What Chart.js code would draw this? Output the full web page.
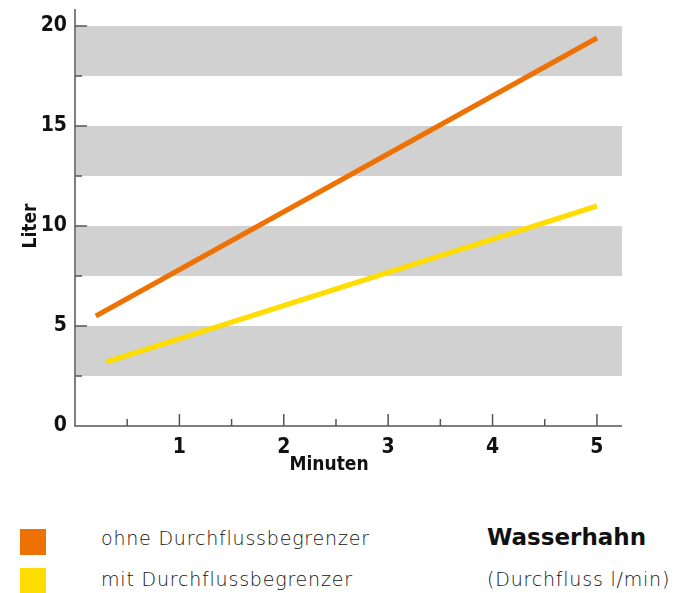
<!DOCTYPE html>
<html>
<head>
<meta charset="utf-8">
<script src="https://cdn.jsdelivr.net/npm/chart.js@4"></script>
<style>
  body { margin: 0; background: #fff; width: 674px; height: 593px; position: relative; overflow: hidden; }
  #wrap { position: absolute; left: 0; top: 0; width: 674px; height: 490px; }
  .sw { position: absolute; left: 20px; width: 26px; height: 26px; }
  .lbl { position: absolute; font-family: "DejaVu Sans", sans-serif; font-weight: 200; font-size: 19px; line-height: 19px; letter-spacing: 0.8px; color: #111; white-space: nowrap; }
  .ttl { position: absolute; font-family: "DejaVu Sans", sans-serif; font-weight: 700; font-size: 23px; line-height: 23px; color: #111; white-space: nowrap; }
</style>
</head>
<body>
<div id="wrap"><canvas id="chart"></canvas></div>

<div class="sw" style="top:529px; background:#EE7203"></div>
<div class="lbl" style="left:101px; top:529px">ohne Durchflussbegrenzer</div>
<div class="sw" style="top:568px; background:#FFDD00"></div>
<div class="lbl" style="left:101px; top:570px">mit Durchflussbegrenzer</div>
<div class="ttl" style="left:487px; top:526px">Wasserhahn</div>
<div class="lbl" style="left:487px; top:570px">(Durchfluss l/min)</div>

<script>
// Data (Minuten -> Liter)
const seriesNames = ['ohne Durchflussbegrenzer', 'mit Durchflussbegrenzer'];
const ohneX = [0.2, 5];
const ohneY = [5.5, 19.4];
const mitX = [0.3, 5];
const mitY = [3.2, 11.0];
const bandFrom = [2.5, 7.5, 12.5, 17.5];
const bandTo = [5, 10, 15, 20];
const xTitle = 'Minuten';
const yTitle = 'Liter';

const orange = '#EE7203';
const yellow = '#FFDD00';
const axisColor = '#555';
const tickFont = { family: '"DejaVu Sans Condensed", "DejaVu Sans", sans-serif', weight: 'bold', size: 21 };

function pts(xs, ys) {
    return xs.map((x, i) => ({ x: x, y: ys[i] }));
}

// Grey horizontal bands behind the lines
const bandsPlugin = {
    id: 'bands',
    beforeDatasetsDraw(chart) {
        const { ctx, chartArea, scales } = chart;
        ctx.save();
        ctx.fillStyle = '#D1D1D1';
        for (let i = 0; i < bandFrom.length; i++) {
            const y1 = scales.y.getPixelForValue(bandTo[i]);
            const y2 = scales.y.getPixelForValue(bandFrom[i]);
            ctx.fillRect(chartArea.left + 1, y1, chartArea.right - chartArea.left - 1, y2 - y1);
        }
        ctx.restore();
    }
};

// Axis lines with inward tick marks, plus axis titles
const axesPlugin = {
    id: 'axesDraw',
    afterDraw(chart) {
        const { ctx, chartArea, scales } = chart;
        const x0 = chartArea.left, y0 = chartArea.bottom;
        ctx.save();
        ctx.strokeStyle = axisColor;
        ctx.lineWidth = 1.5;
        ctx.beginPath();
        ctx.moveTo(x0, chartArea.top);
        ctx.lineTo(x0, y0);
        ctx.lineTo(chartArea.right, y0);
        ctx.stroke();

        scales.y.ticks.forEach(t => {
            if (t.value === 0) return;
            const py = scales.y.getPixelForValue(t.value);
            const len = t.value % 5 === 0 ? 12 : 7;
            ctx.beginPath();
            ctx.moveTo(x0, py);
            ctx.lineTo(x0 + len, py);
            ctx.stroke();
        });
        scales.x.ticks.forEach(t => {
            if (t.value === 0) return;
            const px = scales.x.getPixelForValue(t.value);
            const len = Number.isInteger(t.value) ? 12 : 7;
            ctx.beginPath();
            ctx.moveTo(px, y0);
            ctx.lineTo(px, y0 - len);
            ctx.stroke();
        });

        ctx.fillStyle = '#111';
        ctx.font = 'bold 19px "DejaVu Sans Condensed", "DejaVu Sans", sans-serif';
        ctx.textAlign = 'center';
        ctx.textBaseline = 'middle';
        ctx.fillText(xTitle, 329, 465);
        ctx.translate(31, 226);
        ctx.rotate(-Math.PI / 2);
        ctx.fillText(yTitle, 0, 0);
        ctx.restore();
    }
};

new Chart(document.getElementById('chart'), {
    type: 'line',
    data: {
        datasets: [
            { label: seriesNames[0], data: pts(ohneX, ohneY), borderColor: orange, borderWidth: 5, pointRadius: 0, borderCapStyle: 'butt' },
            { label: seriesNames[1], data: pts(mitX, mitY), borderColor: yellow, borderWidth: 5, pointRadius: 0, borderCapStyle: 'butt' }
        ]
    },
    options: {
        responsive: true,
        maintainAspectRatio: false,
        animation: false,
        layout: { padding: { top: 9, right: 52, left: 0, bottom: 0 } },
        plugins: { legend: { display: false }, tooltip: { enabled: false } },
        scales: {
            x: {
                type: 'linear',
                min: 0,
                max: 5.24,
                grid: { display: false, drawTicks: false },
                border: { display: false },
                afterFit(scale) {
                    scale.height = 64;
                    scale.paddingLeft = 0;
                    scale.paddingRight = 0;
                },
                ticks: {
                    stepSize: 0.5,
                    includeBounds: false,
                    autoSkip: false,
                    maxRotation: 0,
                    padding: 9,
                    color: '#111',
                    font: tickFont,
                    callback: v => (Number.isInteger(v) && v !== 0) ? String(v) : ''
                }
            },
            y: {
                min: 0,
                max: 20.85,
                grid: { display: false, drawTicks: false },
                border: { display: false },
                afterFit(scale) {
                    scale.width = 75;
                    scale.paddingTop = 0;
                    scale.paddingBottom = 0;
                },
                ticks: {
                    stepSize: 2.5,
                    includeBounds: false,
                    autoSkip: false,
                    padding: 8,
                    color: '#111',
                    font: tickFont,
                    callback: v => v % 5 === 0 ? String(v) : ''
                }
            }
        }
    },
    plugins: [bandsPlugin, axesPlugin]
});
</script>
</body>
</html>
